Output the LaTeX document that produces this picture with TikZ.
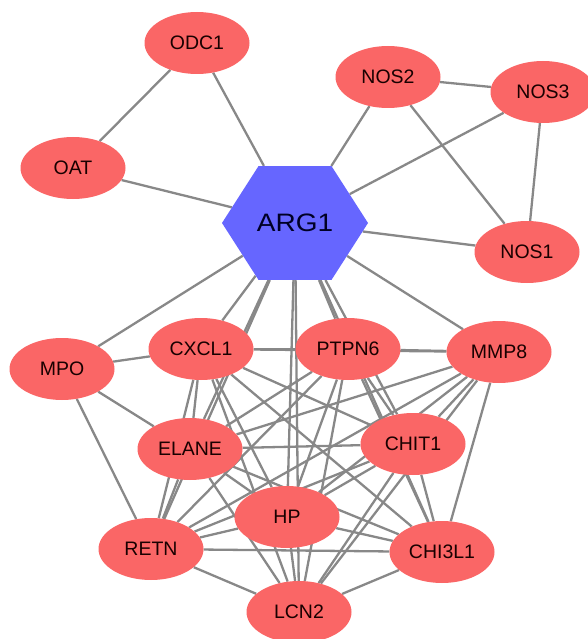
\documentclass[tikz,border=0pt]{standalone}
\usepackage{fontspec}
\setmainfont{Liberation Sans}
\usetikzlibrary{shapes.geometric,backgrounds}

\definecolor{genered}{RGB}{250,102,102}
\definecolor{hubblue}{RGB}{102,102,255}
\definecolor{linkgray}{RGB}{136,136,136}

\tikzset{
  gene/.style={ellipse, fill=genered, minimum width=105pt, minimum height=62pt,
    inner sep=0pt, text=black!90!red, font=\fontsize{19.5}{19.5}\selectfont},
  hub/.style={regular polygon, regular polygon sides=6, fill=hubblue,
    minimum size=146pt, inner sep=0pt, yscale=0.9, text=black!85!blue,
    font=\fontsize{28}{28}\selectfont},
  link/.style={draw=linkgray, line width=2.3pt}
}

\begin{document}
\begin{tikzpicture}[x=1pt, y=-1pt]
    \useasboundingbox (0,0) rectangle (587,639);

    % hub
    \node[hub] (arg1) at (295,223) {ARG1};

    % upper genes
    \node[gene] (odc1) at (197,43) {ODC1};
    \node[gene] (oat) at (73,168) {OAT};
    \node[gene] (nos2) at (388,77) {NOS2};
    \node[gene] (nos3) at (543,92) {NOS3};
    \node[gene] (nos1) at (527,252) {NOS1};

    % lower cluster
    \node[gene] (mpo) at (62,369) {MPO};
    \node[gene] (cxcl1) at (201,349) {CXCL1};
    \node[gene] (ptpn6) at (348,349) {PTPN6};
    \node[gene] (mmp8) at (499,352) {MMP8};
    \node[gene] (elane) at (190,449) {ELANE};
    \node[gene] (chit1) at (413,444) {CHIT1};
    \node[gene] (hp) at (287,517) {HP};
    \node[gene] (retn) at (151,549) {RETN};
    \node[gene] (chi3l1) at (442,552) {CHI3L1};
    \node[gene] (lcn2) at (299,612) {LCN2};

    \begin{pgfonlayer}{background}
        % links around the hub
        \foreach \u/\v in {odc1/oat, odc1/arg1, oat/arg1, nos2/arg1, nos2/nos3,
            nos2/nos1, nos3/arg1, nos3/nos1, nos1/arg1,
            arg1/mpo, arg1/cxcl1, arg1/elane, arg1/retn, arg1/hp, arg1/lcn2,
            arg1/ptpn6, arg1/chit1, arg1/chi3l1, arg1/mmp8,
            mpo/cxcl1, mpo/elane, mpo/retn}
            \draw[link] (\u) -- (\v);

        % links inside the lower cluster
        \foreach \u/\v in {cxcl1/ptpn6, cxcl1/mmp8, cxcl1/elane, cxcl1/chit1,
            cxcl1/hp, cxcl1/retn, cxcl1/chi3l1, cxcl1/lcn2,
            ptpn6/mmp8, ptpn6/elane, ptpn6/chit1, ptpn6/hp, ptpn6/retn,
            ptpn6/chi3l1, ptpn6/lcn2,
            mmp8/elane, mmp8/chit1, mmp8/hp, mmp8/retn, mmp8/chi3l1, mmp8/lcn2,
            elane/chit1, elane/hp, elane/retn, elane/chi3l1, elane/lcn2,
            chit1/hp, chit1/retn, chit1/chi3l1, chit1/lcn2,
            hp/retn, hp/chi3l1, hp/lcn2,
            retn/chi3l1, retn/lcn2, chi3l1/lcn2}
            \draw[link] (\u) -- (\v);
    \end{pgfonlayer}
\end{tikzpicture}
\end{document}
